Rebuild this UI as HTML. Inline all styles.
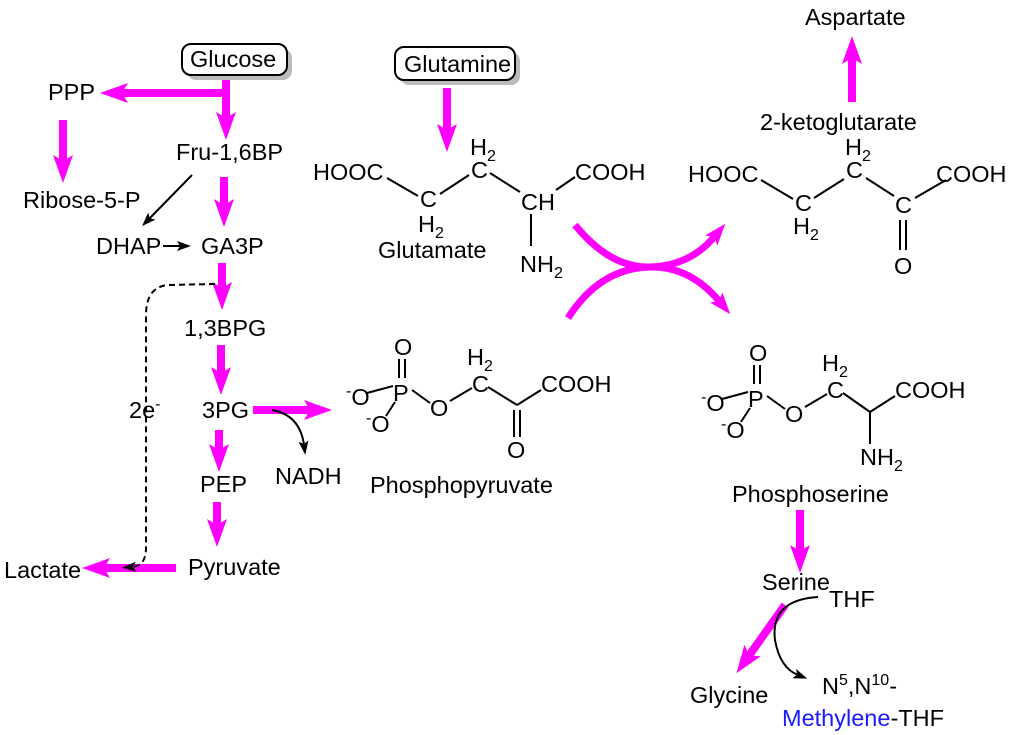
<!DOCTYPE html>
<html><head><meta charset="utf-8"><style>
html,body{margin:0;padding:0;background:#fff}
svg{display:block}
text{font-family:"Liberation Sans",Arial,sans-serif;font-size:23.5px;fill:#000}
.s{font-size:16px}
</style></head><body>
<svg width="1024" height="735" viewBox="0 0 1024 735" xmlns="http://www.w3.org/2000/svg">
<defs>
<marker id="m" markerUnits="userSpaceOnUse" markerWidth="28" markerHeight="20" refX="8" refY="10" orient="auto"><path d="M0,0 L28,10 L0,20 L6,10z" fill="#ff00ff"/></marker>
<marker id="mc" markerUnits="userSpaceOnUse" markerWidth="22" markerHeight="16" refX="6" refY="8" orient="auto"><path d="M0,0 L22,8 L0,16 L5,8z" fill="#ff00ff"/></marker>
<marker id="b" markerUnits="userSpaceOnUse" markerWidth="14" markerHeight="10" refX="4" refY="5" orient="auto"><path d="M0,0 L14,5 L0,10 L3,5z" fill="#000"/></marker>
</defs>
<g stroke="#ff00ff" stroke-width="8" fill="none" marker-end="url(#m)">
<line x1="226" y1="76" x2="226" y2="120"/>
<line x1="229" y1="93" x2="120" y2="93"/>
<line x1="63" y1="120" x2="63" y2="163"/>
<line x1="224" y1="177" x2="224" y2="207"/>
<line x1="222" y1="263" x2="222" y2="290"/>
<line x1="221" y1="345" x2="221" y2="375"/>
<line x1="253" y1="410" x2="312" y2="410"/>
<line x1="219" y1="430" x2="219" y2="452"/>
<line x1="217" y1="502" x2="217" y2="527"/>
<line x1="176" y1="568" x2="102" y2="568"/>
<line x1="447" y1="88" x2="447" y2="132"/>
<line x1="852" y1="102" x2="852" y2="56"/>
<line x1="800" y1="510" x2="800" y2="553"/>
<line x1="785" y1="605" x2="748" y2="657"/>
</g>
<g stroke="#ff00ff" stroke-width="7" fill="none" marker-end="url(#mc)">
<path d="M575,225 Q610,268 650,267 Q690,266 715,236"/>
<path d="M568,318 Q600,268 650,267 Q690,266 720,302"/>
</g>
<rect x="187" y="49" width="105" height="31" rx="9" fill="#bbb"/>
<rect x="182" y="44" width="105" height="31" rx="9" fill="#fff" stroke="#000" stroke-width="2"/>
<text x="190" y="67">Glucose</text>
<rect x="400" y="52" width="120" height="33" rx="9" fill="#bbb"/>
<rect x="395" y="47" width="120" height="33" rx="9" fill="#fff" stroke="#000" stroke-width="2"/>
<text x="404" y="72">Glutamine</text>
<g stroke="#000" stroke-width="2" fill="none">
<line x1="192" y1="175" x2="149" y2="219" marker-end="url(#b)"/>
<line x1="163" y1="246" x2="181" y2="246" marker-end="url(#b)"/>
<path d="M272,410 Q300,415 304,445" marker-end="url(#b)"/>
<path d="M818,597 Q770,600 775,640 Q780,668 798,675" marker-end="url(#b)"/>
<path d="M215,284 L168,285 Q146,287 146,315 L146,548 Q146,566 132,567" stroke-dasharray="6,4" marker-end="url(#b)"/>
</g>
<text x="48" y="100">PPP</text>
<text x="176" y="160">Fru-1,6BP</text>
<text x="23" y="208">Ribose-5-P</text>
<text x="96" y="254">DHAP</text>
<text x="201" y="254">GA3P</text>
<text x="184" y="336">1,3BPG</text>
<text x="129" y="418">2e<tspan class="s" dy="-9">-</tspan></text>
<text x="202" y="418">3PG</text>
<text x="275" y="484">NADH</text>
<text x="200" y="492">PEP</text>
<text x="188" y="575">Pyruvate</text>
<text x="4" y="578">Lactate</text>
<g stroke="#000" stroke-width="2">
<line x1="387" y1="178" x2="418" y2="196"/><line x1="440" y1="194" x2="469" y2="175"/>
<line x1="490" y1="173" x2="520" y2="192"/><line x1="556" y1="190" x2="575" y2="177"/>
<line x1="531" y1="214" x2="531" y2="246"/>
</g>
<text x="313" y="180">HOOC</text>
<text x="470" y="155">H<tspan class="s" dy="6">2</tspan></text>
<text x="471" y="178">C</text>
<text x="420" y="207">C</text>
<text x="418" y="232">H<tspan class="s" dy="6">2</tspan></text>
<text x="521" y="210">CH</text>
<text x="575" y="180">COOH</text>
<text x="520" y="272">NH<tspan class="s" dy="6">2</tspan></text>
<text x="378" y="258">Glutamate</text>
<g stroke="#000" stroke-width="2">
<line x1="761" y1="180" x2="793" y2="199"/><line x1="814" y1="198" x2="844" y2="179"/>
<line x1="866" y1="178" x2="894" y2="196"/><line x1="915" y1="198" x2="946" y2="180"/>
<line x1="900" y1="220" x2="900" y2="250"/><line x1="906" y1="220" x2="906" y2="250"/>
</g>
<text x="805" y="25">Aspartate</text>
<text x="760" y="130">2-ketoglutarate</text>
<text x="688" y="182">HOOC</text>
<text x="845" y="155">H<tspan class="s" dy="6">2</tspan></text>
<text x="846" y="178">C</text>
<text x="795" y="211">C</text>
<text x="793" y="234">H<tspan class="s" dy="6">2</tspan></text>
<text x="895" y="213">C</text>
<text x="894" y="274">O</text>
<text x="936" y="182">COOH</text>
<g stroke="#000" stroke-width="2">
<line x1="399" y1="359" x2="399" y2="378"/><line x1="405" y1="359" x2="405" y2="378"/>
<line x1="367" y1="393" x2="393" y2="386"/><line x1="395" y1="402" x2="386" y2="416"/>
<line x1="412" y1="390" x2="430" y2="403"/><line x1="450" y1="401" x2="472" y2="388"/>
<line x1="488" y1="387" x2="517" y2="405"/><line x1="517" y1="405" x2="541" y2="390"/>
<line x1="514" y1="410" x2="514" y2="437"/><line x1="520" y1="410" x2="520" y2="437"/>
</g>
<text x="394" y="355">O</text>
<text x="393" y="401">P</text>
<text x="346" y="405"><tspan class="s" dy="-9">-</tspan><tspan dy="9">O</tspan></text>
<text x="366" y="432"><tspan class="s" dy="-9">-</tspan><tspan dy="9">O</tspan></text>
<text x="430" y="416">O</text>
<text x="467" y="365">H<tspan class="s" dy="6">2</tspan></text>
<text x="472" y="392">C</text>
<text x="507" y="458">O</text>
<text x="541" y="392">COOH</text>
<text x="370" y="493">Phosphopyruvate</text>
<g stroke="#000" stroke-width="2">
<line x1="754" y1="365" x2="754" y2="384"/><line x1="760" y1="365" x2="760" y2="384"/>
<line x1="722" y1="399" x2="748" y2="392"/><line x1="750" y1="408" x2="741" y2="422"/>
<line x1="767" y1="396" x2="785" y2="409"/><line x1="805" y1="407" x2="827" y2="394"/>
<line x1="843" y1="393" x2="870" y2="412"/><line x1="870" y1="412" x2="895" y2="396"/>
<line x1="870" y1="412" x2="870" y2="444"/>
</g>
<text x="749" y="361">O</text>
<text x="748" y="407">P</text>
<text x="701" y="411"><tspan class="s" dy="-9">-</tspan><tspan dy="9">O</tspan></text>
<text x="721" y="438"><tspan class="s" dy="-9">-</tspan><tspan dy="9">O</tspan></text>
<text x="785" y="422">O</text>
<text x="822" y="371">H<tspan class="s" dy="6">2</tspan></text>
<text x="827" y="398">C</text>
<text x="895" y="398">COOH</text>
<text x="860" y="465">NH<tspan class="s" dy="6">2</tspan></text>
<text x="732" y="502">Phosphoserine</text>
<text x="762" y="590">Serine</text>
<text x="829" y="607">THF</text>
<text x="690" y="703">Glycine</text>
<text x="822" y="694">N<tspan class="s" dy="-9">5</tspan><tspan dy="9">,N</tspan><tspan class="s" dy="-9">10</tspan><tspan dy="9">-</tspan></text>
<text x="782" y="726"><tspan fill="#1a1aff">Methylene</tspan>-THF</text>
</svg>
</body></html>
